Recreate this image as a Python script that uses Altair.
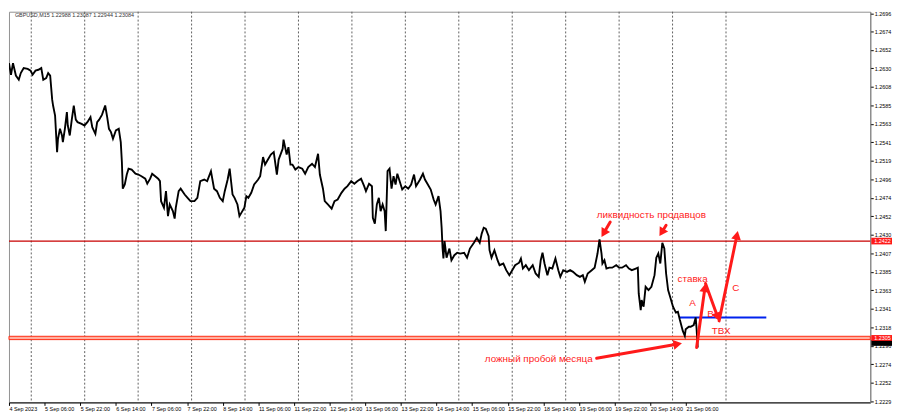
import math
import altair as alt
import pandas as pd

# ---------------- data (trading hours since 4 Sep 14:00, GBPUSD M15 close) ----------------
hours = [
    0, 0.9, 1.8, 3.1, 4.4, 5.3, 6.6, 8.4, 9.7, 10.6,
    11.9, 13.2, 14.5, 15.4, 16.7, 17.6, 18.5, 19.4, 19.8, 20.7,
    21.6, 22.0, 22.9, 23.8, 24.2, 25.1, 26.0, 26.4, 27.3, 28.2,
    29.1, 30.0, 30.8, 32.6, 33.9, 35.2, 36.6, 37.4, 38.8, 39.6,
    40.5, 41.8, 43.2, 44.1, 44.9, 45.8, 46.7, 48.0, 49.3, 50.2,
    50.7, 51.1, 52.0, 52.9, 53.7, 55.1, 56.8, 58.1, 59.5, 61.2,
    62.1, 63.4, 64.3, 67.0, 67.8, 68.3, 69.6, 70.5, 71.4, 72.2,
    73.6, 74.4, 74.9, 76.2, 77.1, 78.9, 80.2, 81.5, 83.3, 84.6,
    85.9, 87.7, 89.0, 90.7, 92.1, 93.4, 94.7, 96.0, 96.9, 98.2,
    99.1, 100.4, 101.3, 102.6, 103.5, 104.8, 105.7, 106.6, 107.5, 108.8,
    110.1, 111.9, 112.8, 114.1, 115.0, 116.3, 117.6, 118.9, 120.3, 121.1,
    122.9, 123.3, 124.7, 125.5, 126.4, 127.3, 128.6, 130.0, 131.7, 133.0,
    134.4, 136.1, 137.4, 138.8, 139.6, 141.0, 141.8, 143.2, 144.9, 146.2,
    147.6, 149.3, 150.7, 152.0, 153.7, 155.1, 156.4, 158.1, 159.5, 160.3,
    161.7, 163.0, 163.4, 164.3, 165.2, 166.1, 166.9, 167.8, 168.7, 169.2,
    170.0, 170.9, 171.8, 172.7, 173.6, 174.4, 175.8, 176.6, 178.0, 179.3,
    180.6, 181.9, 182.8, 184.6, 185.9, 186.8, 188.1, 189.4, 190.7, 191.6,
    192.9, 193.8, 194.3, 194.7, 195.1, 195.6, 196.5, 197.8, 198.7, 200.0,
    201.3, 202.6, 204.4, 205.7, 207.0, 208.8, 210.1, 211.4, 212.3, 213.2,
    214.1, 215.4, 215.8, 216.7, 218.0, 219.4, 220.3, 222.0, 223.3, 224.7,
    226.0, 227.3, 229.1, 229.9, 230.8, 232.1, 233.5, 235.2, 236.5, 237.9,
    238.8, 239.6, 240.5, 241.8, 242.7, 244.0, 245.4, 246.7, 247.6, 248.9,
    250.6, 252.0, 253.3, 255.0, 256.4, 257.7, 258.6, 259.9, 261.7, 263.0,
    264.3, 265.2, 266.1, 266.5, 267.4, 268.3, 269.6, 270.9, 272.7, 274.0,
    275.3, 277.1, 278.4, 279.7, 281.5, 282.4, 282.8, 283.7, 284.1, 285.0,
    285.9, 287.2, 288.5, 289.9, 290.7, 291.6, 292.5, 293.4, 294.3, 295.1,
    296.0, 296.9, 298.2, 299.5, 300.4, 301.3, 302.6, 303.5, 303.9, 305.3,
    306.1, 307.5, 308.4, 308.8, 309.3,
]
prices = [
    1.2636, 1.2622, 1.2636, 1.2621, 1.2616, 1.2624, 1.2630, 1.2629, 1.2627, 1.2622,
    1.2627, 1.2628, 1.2630, 1.2616, 1.2618, 1.2624, 1.2621, 1.2592, 1.2585, 1.2573,
    1.2529, 1.2545, 1.2557, 1.2549, 1.2541, 1.2557, 1.2577, 1.2561, 1.2549, 1.2568,
    1.2585, 1.2568, 1.2565, 1.2563, 1.2561, 1.2565, 1.2571, 1.2559, 1.2551, 1.2565,
    1.2568, 1.2574, 1.2585, 1.2571, 1.2557, 1.2553, 1.2545, 1.2555, 1.2557, 1.2541,
    1.2517, 1.2485, 1.2490, 1.2502, 1.2509, 1.2508, 1.2503, 1.2502, 1.2500, 1.2497,
    1.2491, 1.2497, 1.2503, 1.2497, 1.2494, 1.2470, 1.2462, 1.2482, 1.2452, 1.2466,
    1.2458, 1.2449, 1.2462, 1.2482, 1.2485, 1.2478, 1.2474, 1.2470, 1.2470, 1.2474,
    1.2494, 1.2496, 1.2494, 1.2506, 1.2485, 1.2482, 1.2474, 1.2470, 1.2482, 1.2496,
    1.2509, 1.2478, 1.2474, 1.2466, 1.2452, 1.2458, 1.2462, 1.2476, 1.2474, 1.2480,
    1.2490, 1.2496, 1.2500, 1.2523, 1.2514, 1.2520, 1.2526, 1.2529, 1.2502, 1.2520,
    1.2533, 1.2544, 1.2526, 1.2535, 1.2514, 1.2514, 1.2508, 1.2511, 1.2509, 1.2503,
    1.2511, 1.2515, 1.2511, 1.2527, 1.2502, 1.2485, 1.2470, 1.2466, 1.2461, 1.2470,
    1.2472, 1.2480, 1.2485, 1.2488, 1.2494, 1.2491, 1.2494, 1.2497, 1.2488, 1.2482,
    1.2491, 1.2488, 1.2450, 1.2443, 1.2466, 1.2474, 1.2458, 1.2466, 1.2458, 1.2434,
    1.2506, 1.2509, 1.2485, 1.2500, 1.2490, 1.2503, 1.2491, 1.2484, 1.2488, 1.2485,
    1.2490, 1.2502, 1.2488, 1.2496, 1.2503, 1.2496, 1.2490, 1.2484, 1.2472, 1.2466,
    1.2476, 1.2458, 1.2438, 1.2414, 1.2401, 1.2422, 1.2402, 1.2413, 1.2399, 1.2405,
    1.2408, 1.2407, 1.2408, 1.2402, 1.2413, 1.2420, 1.2426, 1.2420, 1.2431, 1.2438,
    1.2437, 1.2428, 1.2411, 1.2402, 1.2411, 1.2399, 1.2393, 1.2395, 1.2387, 1.2381,
    1.2387, 1.2393, 1.2396, 1.2401, 1.2389, 1.2393, 1.2387, 1.2393, 1.2383, 1.2379,
    1.2399, 1.2408, 1.2395, 1.2381, 1.2390, 1.2389, 1.2401, 1.2387, 1.2379, 1.2387,
    1.2385, 1.2387, 1.2385, 1.2381, 1.2379, 1.2381, 1.2373, 1.2383, 1.2387, 1.2390,
    1.2407, 1.2424, 1.2407, 1.2395, 1.2399, 1.2389, 1.2390, 1.2390, 1.2393, 1.2390,
    1.2390, 1.2393, 1.2389, 1.2387, 1.2389, 1.2390, 1.2359, 1.2339, 1.2351, 1.2343,
    1.2367, 1.2363, 1.2367, 1.2381, 1.2402, 1.2407, 1.2395, 1.2420, 1.2413, 1.2383,
    1.2363, 1.2355, 1.2343, 1.2336, 1.2337, 1.2327, 1.2314, 1.2308, 1.2316, 1.2319,
    1.2319, 1.2321, 1.2330, 1.2316, 1.2294,
]
assert len(hours) == len(prices)

x_tick_hours = [0, 16, 32, 48, 64, 80, 96, 112, 128, 144, 160, 176, 192, 208, 224, 240, 256, 272, 288, 304]
x_tick_labels = ["4 Sep 2023", "5 Sep 06:00", "5 Sep 22:00", "6 Sep 14:00", "7 Sep 06:00",
                 "7 Sep 22:00", "8 Sep 14:00", "11 Sep 06:00", "11 Sep 22:00", "12 Sep 14:00",
                 "13 Sep 06:00", "13 Sep 22:00", "14 Sep 14:00", "15 Sep 06:00", "15 Sep 22:00",
                 "18 Sep 14:00", "19 Sep 06:00", "19 Sep 22:00", "20 Sep 14:00", "21 Sep 06:00"]
grid_hours = [10, 34, 58, 82, 106, 130, 154, 178, 202, 226, 250, 274, 298, 322]
y_tick_values = [1.2696, 1.2674, 1.2652, 1.2630, 1.2608, 1.2585, 1.2563, 1.2541, 1.2519, 1.2496,
                 1.2474, 1.2452, 1.2430, 1.2407, 1.2385, 1.2363, 1.2341, 1.2318, 1.2296, 1.2274,
                 1.2252, 1.2229]

resistance_level = 1.2422
support_level = 1.2305
support_band = [1.23035, 1.23075]
entry_level = 1.2330
entry_from_to = [301.3, 340.1]

arrow_h0 = [263.9, 308.8, 312.8, 318.9, 270.0, 295.1]
arrow_p0 = [1.2281, 1.2294, 1.2371, 1.2326, 1.2445, 1.2441]
arrow_h1 = [302.2, 312.8, 318.9, 327.3, 266.1, 292.1]
arrow_p1 = [1.2299, 1.2371, 1.2326, 1.2434, 1.2427, 1.2428]

note_texts = ["ликвидность продавцов", "ставка", "A", "B", "ТВХ", "C", "ложный пробой месяца"]
note_h = [288.5, 307.0, 307.0, 315.0, 319.8, 326.4, 237.9]
note_p = [1.2453, 1.2376, 1.2347, 1.2334, 1.2314, 1.2365, 1.2280]

header = "GBPUSD,M15  1.22988 1.23087 1.22944 1.23084"

# ---------------- layout ----------------
W, H = 873, 396
X_DOMAIN = [0, 386.8]
Y_DOMAIN = [1.2228, 1.26978]
kx = W / (X_DOMAIN[1] - X_DOMAIN[0])
ky = H / (Y_DOMAIN[1] - Y_DOMAIN[0])
FONT = "Liberation Sans"
RED = "#ff1a1a"

xs = alt.Scale(domain=X_DOMAIN, nice=False, zero=False)
ys = alt.Scale(domain=Y_DOMAIN, nice=False, zero=False)

label_array = "[" + ",".join("'" + s + "'" for s in x_tick_labels) + "]"
x_axis = alt.Axis(values=x_tick_hours, labelExpr=label_array + "[round(datum.value / 16)]",
                  labelAlign="left", labelFontSize=5.5, labelFont=FONT, labelColor="black",
                  tickSize=3, tickColor="black", domainColor="black", labelPadding=1,
                  grid=False, title=None, labelOverlap=False, labelFlush=False)
y_axis = alt.Axis(orient="right", values=y_tick_values, format=".4f", labelFontSize=5.5,
                  labelFont=FONT, labelColor="black", tickSize=3, tickColor="black",
                  domainColor="#808080", labelPadding=1, grid=False, title=None,
                  labelOverlap=False, labelFlush=False)

def X(field):
    return alt.X(field, type="quantitative", scale=xs, axis=x_axis)

def Y(field):
    return alt.Y(field, type="quantitative", scale=ys, axis=y_axis)

# grid
grid = alt.Chart(pd.DataFrame({"h": grid_hours})).mark_rule(
    color="#606060", strokeDash=[2, 2], strokeWidth=1).encode(x=X("h"))

# price line
price_df = pd.DataFrame({"h": hours, "p": prices})
line = alt.Chart(price_df).mark_line(color="black", strokeWidth=1.9, clip=True).encode(
    x=X("h"), y=Y("p"))

# levels
res = alt.Chart(pd.DataFrame({"p": [resistance_level]})).mark_rule(
    color="#c80000", strokeWidth=1.2).encode(y=Y("p"))
band = alt.Chart(pd.DataFrame({"p": [support_band[0]], "p2": [support_band[1]]})).mark_rect(
    color="#ffb0a0", stroke="#ff2a10", strokeWidth=1).encode(
    x=alt.value(0), x2=alt.value(W), y=Y("p"), y2="p2")
entry = alt.Chart(pd.DataFrame({"h": [entry_from_to[0]], "h2": [entry_from_to[1]], "p": [entry_level]})).mark_rule(
    color="#0022ee", strokeWidth=2).encode(x=X("h"), x2="h2", y=Y("p"))

# arrows
R = 5.0  # half-width of arrowhead (px)
rows = []
for a, b, c, d in zip(arrow_h0, arrow_p0, arrow_h1, arrow_p1):
    dx = (c - a) * kx
    dy = -(d - b) * ky
    L = math.hypot(dx, dy)
    ux, uy = dx / L, dy / L
    ang = math.degrees(math.atan2(ux, -uy)) % 360
    off = 0.866 * R
    hc = c - off * ux / kx
    pc = d + off * uy / ky
    hs = c - 1.6 * off * ux / kx
    ps = d + 1.6 * off * uy / ky
    rows.append({"h0": a, "p0": b, "hs": hs, "ps": ps, "hc": hc, "pc": pc, "ang": ang})
arr_df = pd.DataFrame(rows)
shafts = alt.Chart(arr_df).mark_rule(color=RED, strokeWidth=3, strokeCap="round").encode(
    x=X("h0"), y=Y("p0"), x2="hs", y2="ps")
heads = alt.Chart(arr_df).mark_point(shape="triangle-up", filled=True, color=RED, opacity=1,
                                     size=(2 * R) ** 2).encode(
    x=X("hc"), y=Y("pc"), angle=alt.Angle("ang:Q", scale=None))

# annotation text
notes = alt.Chart(pd.DataFrame({"h": note_h, "p": note_p, "t": note_texts})).mark_text(
    color=RED, font=FONT, fontSize=10, align="center", baseline="middle").encode(
    x=X("h"), y=Y("p"), text="t:N")

# price boxes on the right axis
box_df = pd.DataFrame({"p": [1.2296, 1.2302, 1.2418], "p2": [1.2303, 1.2309, 1.2426],
                       "c": ["#000000", "#ff1a1a", "#ff1a1a"],
                       "t": ["", "1.2305", "1.2422"], "pm": [1.22995, 1.23055, 1.2422]})
boxes = alt.Chart(box_df).mark_rect().encode(
    x=alt.value(W + 1), x2=alt.value(W + 22), y=Y("p"), y2="p2",
    color=alt.Color("c:N", scale=None))
box_txt = alt.Chart(box_df).mark_text(color="white", font=FONT, fontSize=5.5, align="left",
                                      baseline="middle").encode(
    x=alt.value(W + 4), y=Y("pm"), text="t:N")

head_txt = alt.Chart(pd.DataFrame({"t": [header]})).mark_text(
    font=FONT, fontSize=5.5, color="#333333", align="left", baseline="top").encode(
    x=alt.value(6), y=alt.value(1), text="t:N")

chart = alt.layer(grid, res, band, entry, line, shafts, heads, notes, boxes, box_txt, head_txt).properties(
    width=W, height=H, padding=0, background="white"
).configure_view(stroke="#909090", strokeWidth=1)

chart.save("out.html", embed_options={"renderer": "svg", "actions": False})
